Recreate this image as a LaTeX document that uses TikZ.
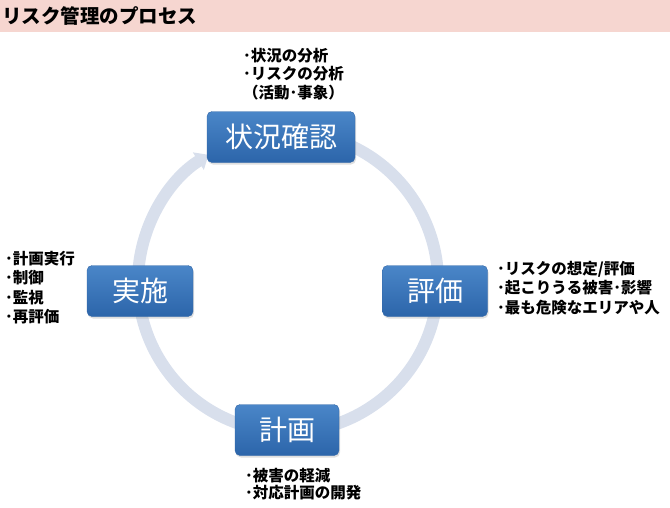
\documentclass[tikz,border=0pt]{standalone}
\usepackage{fontspec}
\setmainfont{Noto Sans CJK JP}
\usetikzlibrary{arrows.meta,shadows}
\definecolor{bandpink}{RGB}{246,214,208}
\definecolor{ringgray}{RGB}{216,223,236}
\definecolor{boxtop}{RGB}{74,134,200}
\definecolor{boxbot}{RGB}{44,101,170}
\definecolor{boxline}{RGB}{52,104,168}
\begin{document}
\begin{tikzpicture}[x=1pt,y=-1pt,
stage/.style={rounded corners=5pt,top color=boxtop,bottom color=boxbot,draw=boxline,
  text=white,inner sep=0pt,minimum height=51pt,
  font=\fontsize{28}{30}\selectfont,
  drop shadow={opacity=0.25,shadow xshift=1pt,shadow yshift=-2pt}},
note/.style={anchor=north west,inner sep=0pt,align=left,
  font=\bfseries\fontsize{15.5}{19.5}\selectfont},
ring/.style={ringgray,line width=12pt}
]
\useasboundingbox (0,0) rectangle (670,507);
\def\r{150}
% title band
\fill[bandpink] (0,0) rectangle (670,32);
\node[anchor=west,inner sep=0pt,font=\bfseries\fontsize{19.5}{21}\selectfont] (title) at (2,16) {リスク管理のプロセス};
% cycle
\coordinate (ctr) at (288,282);
\draw[ring,-{Triangle[length=12pt,width=20pt]}] (ctr) ++(-80:\r) arc[start angle=-80,end angle=238,radius=\r];
\node[stage,minimum width=148pt] (check) at (281,137) {状況確認};
\node[stage,minimum width=105pt] (eval) at (435,291) {評価};
\node[stage,minimum width=106pt] (act) at (140,291) {実施};
\node[stage,minimum width=104pt] (plan) at (287,430) {計画};
% notes
\node[note,font=\bfseries\fontsize{15.5}{18.5}\selectfont] (checknote) at (243,48) {･状況の分析\\･リスクの分析\\（活動･事象）};
\node[note] (evalnote) at (497,261) {･リスクの想定/評価\\･起こりうる被害･影響\\･最も危険なエリアや人};
\node[note] (actnote) at (5,251) {･計画実行\\･制御\\･監視\\･再評価};
\node[note,font=\bfseries\fontsize{15.5}{17.5}\selectfont] (plannote) at (245,468) {･被害の軽減\\･対応計画の開発};
\end{tikzpicture}
\end{document}
